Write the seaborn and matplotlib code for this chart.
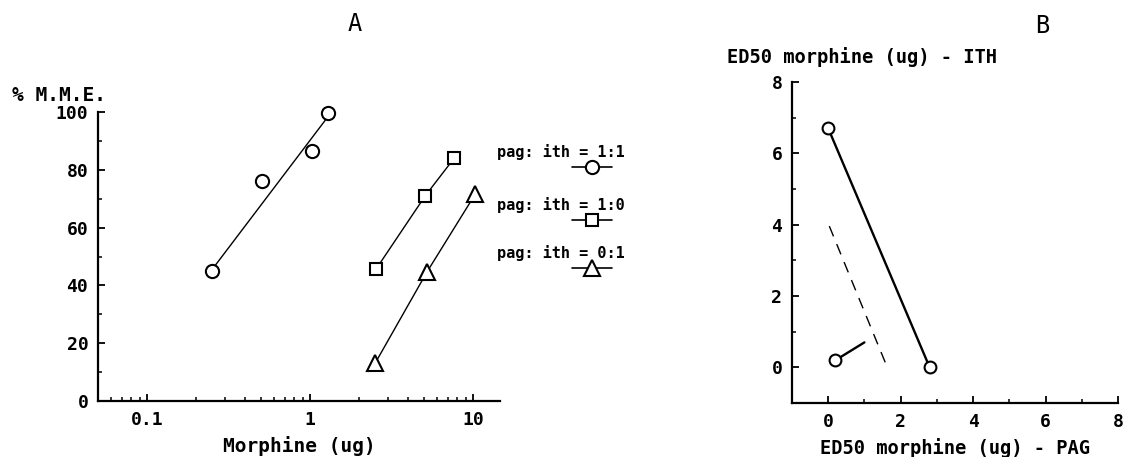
import numpy as np
import pandas as pd
import matplotlib
matplotlib.use("Agg")
import matplotlib.pyplot as plt
import seaborn as sns
from matplotlib.ticker import FixedLocator, NullFormatter

# ---------------- data ----------------
# Panel A: dose-response, % M.M.E. vs morphine (ug), log x
circ_dose = [0.25, 0.51, 1.03, 1.29]
circ_mme = [45, 76, 86.5, 99.5]
circ_fit_dose = [0.26, 1.24]
circ_fit_mme = [46.7, 97.2]

sq_dose = [2.54, 5.08, 7.64]
sq_mme = [45.7, 71, 84]

tri_dose = [2.5, 5.2, 10.3]
tri_mme = [13, 44.6, 71.6]

legend_labels = ["pag: ith = 1:1", "pag: ith = 1:0", "pag: ith = 0:1"]

# Panel B: isobologram, ED50 ITH vs ED50 PAG
iso_pag = [0.0, 2.8]
iso_ith = [6.7, 0.0]
add_pag = [0.03, 1.63]
add_ith = [3.96, 0.0]
combo_pag = [0.2, 1.0]
combo_ith = [0.2, 0.7]

a_xticks = [0.1, 1, 10]
a_xticklabels = ["0.1", "1", "10"]
a_yticks = [0, 20, 40, 60, 80, 100]
b_ticks = [0, 2, 4, 6, 8]

# ---------------- style ----------------
sns.set_theme(style="ticks")
plt.rcParams["font.family"] = ["DejaVu Sans Mono", "DejaVu Sans"]
for k in ("text.color", "axes.labelcolor", "xtick.color", "ytick.color"):
    plt.rcParams[k] = "black"
FS = 13
LFS = 14
WT = "bold"

W, H = 1124, 457
fig = plt.figure(figsize=(W / 100, H / 100), dpi=100)
fig.patch.set_facecolor("white")

def fx(px):
    return px / W

def fy(py):
    return 1 - py / H

axA = fig.add_axes([fx(98), fy(401), fx(500) - fx(98), fy(112) - fy(401)])
axB = fig.add_axes([fx(792), fy(403), fx(1118) - fx(792), fy(82) - fy(403)])

mk = dict(markerfacecolor="white", markeredgecolor="black", markeredgewidth=1.5)

# ---- Panel A ----
dfc = pd.DataFrame({"dose": circ_dose, "mme": circ_mme})
dff = pd.DataFrame({"dose": circ_fit_dose, "mme": circ_fit_mme})
dfs = pd.DataFrame({"dose": sq_dose, "mme": sq_mme})
dft = pd.DataFrame({"dose": tri_dose, "mme": tri_mme})

sns.lineplot(data=dff, x="dose", y="mme", ax=axA, color="black", lw=1.0, zorder=2)
sns.lineplot(data=dfs, x="dose", y="mme", ax=axA, color="black", lw=1.0, zorder=2)
sns.lineplot(data=dft, x="dose", y="mme", ax=axA, color="black", lw=1.0, zorder=2)
axA.plot(dfc["dose"], dfc["mme"], ls="none", marker="o", ms=9.5, zorder=3,
         clip_on=False, **mk)
axA.plot(dfs["dose"], dfs["mme"], ls="none", marker="s", ms=8, zorder=3,
         clip_on=False, **mk)
axA.plot(dft["dose"], dft["mme"], ls="none", marker="^", ms=11, zorder=3,
         clip_on=False, **mk)

axA.set_xscale("log")
axA.set_xlim(0.05, 14.6)
axA.set_ylim(0, 100)
axA.xaxis.set_major_locator(FixedLocator(a_xticks))
axA.set_xticklabels(a_xticklabels)
minor = [m * 10.0 ** e for e in (-2, -1, 0, 1) for m in range(2, 10)]
axA.xaxis.set_minor_locator(FixedLocator(minor))
axA.xaxis.set_minor_formatter(NullFormatter())
axA.set_yticks(a_yticks)
axA.yaxis.set_minor_locator(FixedLocator([10, 30, 50, 70, 90]))
axA.set_xlabel("Morphine (ug)", fontsize=LFS, fontweight=WT, labelpad=5)
axA.set_ylabel("")

# ---- Panel B ----
dfi = pd.DataFrame({"pag": iso_pag, "ith": iso_ith})
dfa = pd.DataFrame({"pag": add_pag, "ith": add_ith})
dfk = pd.DataFrame({"pag": combo_pag, "ith": combo_ith})

sns.lineplot(data=dfi, x="pag", y="ith", ax=axB, color="black", lw=1.7, zorder=2)
sns.lineplot(data=dfa, x="pag", y="ith", ax=axB, color="black", lw=1.0,
             linestyle=(0, (8, 6)), zorder=2)
sns.lineplot(data=dfk, x="pag", y="ith", ax=axB, color="black", lw=1.7, zorder=2)
axB.plot(dfi["pag"], dfi["ith"], ls="none", marker="o", ms=8.5, zorder=3, **mk)
axB.plot(dfk["pag"].iloc[:1], dfk["ith"].iloc[:1], ls="none", marker="o", ms=8.5,
         zorder=3, **mk)

axB.set_xlim(-1, 8)
axB.set_ylim(-1, 8)
axB.set_xticks(b_ticks)
axB.set_yticks(b_ticks)
axB.xaxis.set_minor_locator(FixedLocator([1, 3, 5, 7]))
axB.yaxis.set_minor_locator(FixedLocator([1, 3, 5, 7]))
axB.set_xlabel("ED50 morphine (ug) - PAG", fontsize=LFS - 0.5, fontweight=WT,
               labelpad=5)
axB.set_ylabel("")

for ax in (axA, axB):
    ax.set_facecolor("white")
    sns.despine(ax=ax)
    for s in ("left", "bottom"):
        ax.spines[s].set_color("black")
        ax.spines[s].set_linewidth(1.6)
    ax.tick_params(which="major", direction="in", length=5, width=1.3,
                   labelsize=FS, colors="black", pad=7)
    ax.tick_params(which="minor", direction="in", length=3, width=1.1, colors="black")
    ax.grid(False)
    for lab in ax.get_xticklabels() + ax.get_yticklabels():
        lab.set_fontweight(WT)
    if ax.get_legend():
        ax.get_legend().remove()

# ---- texts ----
fig.text(fx(355), fy(24), "A", fontsize=17, ha="center", va="center")
fig.text(fx(1042), fy(26), "B", fontsize=17, ha="center", va="center")
fig.text(fx(12), fy(96), "% M.M.E.", fontsize=LFS, fontweight=WT, ha="left",
         va="center")
fig.text(fx(727), fy(57), "ED50 morphine (ug) - ITH", fontsize=LFS - 0.5,
         fontweight=WT, ha="left", va="center")

# ---- legend (text above a marker sample) ----
axL = fig.add_axes([fx(490), fy(290), fx(640) - fx(490), fy(130) - fy(290)])
axL.set_xlim(490, 640)
axL.set_ylim(290, 130)
axL.axis("off")
leg_markers = [("o", 9.5), ("s", 8), ("^", 11)]
leg_text_y = [152, 205, 253]
for lab, (m, ms), ty in zip(legend_labels, leg_markers, leg_text_y):
    axL.text(497, ty, lab, fontsize=11, fontweight=WT, ha="left", va="center")
    axL.plot([572, 592, 612], [ty + 15, ty + 15, ty + 15], color="black", lw=1.2,
             marker=m, ms=ms, markevery=[1], **mk)

fig.savefig("out.png", dpi=100, facecolor="white")
